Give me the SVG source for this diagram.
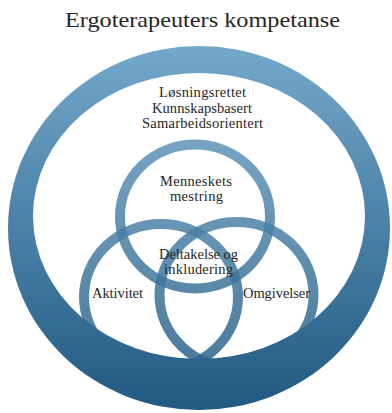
<svg xmlns="http://www.w3.org/2000/svg" width="392" height="413" viewBox="0 0 392 413">
<style>
  text { font-family: "Liberation Serif", "DejaVu Serif", serif; fill: #262626; text-anchor: middle; }
  .title { font-size: 22px; }
  .lbl { font-size: 14.5px; }
  .ring { fill: none; stroke: url(#g); stroke-width: 10; stroke-opacity: 0.85; }
</style>
<defs>
  <linearGradient id="g" gradientUnits="userSpaceOnUse" x1="0" y1="46" x2="0" y2="410">
    <stop offset="0" stop-color="#74a8cb"/>
    <stop offset="1" stop-color="#215981"/>
  </linearGradient>
</defs>
<text class="title" x="202.5" y="27" textLength="275" lengthAdjust="spacingAndGlyphs">Ergoterapeuters kompetanse</text>
<g id="outer">
  <path fill="url(#g)" fill-rule="evenodd" d="M8,228 a191,182 0 1,0 382,0 a191,182 0 1,0 -382,0 Z M33,216 a166,143 0 1,0 332,0 a166,143 0 1,0 -332,0 Z"/>
  <text class="lbl" x="202.5" y="97" textLength="87">Løsningsrettet</text>
  <text class="lbl" x="202" y="112.5" textLength="100">Kunnskapsbasert</text>
  <text class="lbl" x="202.5" y="128" textLength="121">Samarbeidsorientert</text>
</g>
<g id="aktivitet">
  <ellipse class="ring" cx="161" cy="297" rx="77" ry="73"/>
  <text class="lbl" x="117.5" y="298" textLength="51">Aktivitet</text>
</g>
<g id="omgivelser">
  <ellipse class="ring" cx="236.5" cy="295" rx="77" ry="73"/>
  <text class="lbl" x="276.5" y="298" textLength="67">Omgivelser</text>
</g>
<g id="mestring">
  <ellipse class="ring" cx="195" cy="216.5" rx="75" ry="72"/>
  <text class="lbl" x="196" y="186" textLength="72">Menneskets</text>
  <text class="lbl" x="196.5" y="201" textLength="53">mestring</text>
</g>
<g id="deltakelse">
  <text class="lbl" x="198.5" y="259" textLength="79">Deltakelse og</text>
  <text class="lbl" x="198.5" y="273.5" textLength="69">inkludering</text>
</g>
<g id="connectors"></g>
</svg>
